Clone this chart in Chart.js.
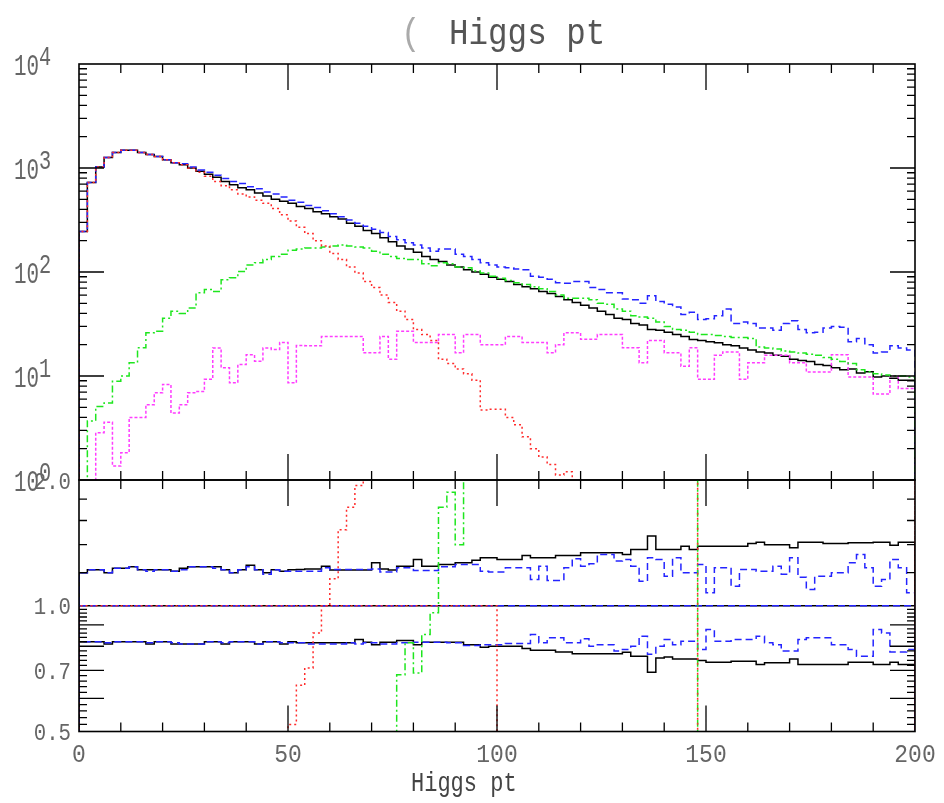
<!DOCTYPE html>
<html>
<head>
<meta charset="utf-8">
<title>Higgs pt</title>
<script src="https://cdn.jsdelivr.net/npm/chart.js@4.4.0/dist/chart.umd.min.js"></script>
<style>
  body { margin: 0; background: #fff; }
  #wrap { position: relative; width: 944px; height: 803px; }
  canvas { position: absolute; left: 0; }
  #topPanel { top: 0; }
  #ratioPanel { top: 460px; }
</style>
</head>
<body>
<div id="wrap">
  <canvas id="topPanel" width="944" height="500"></canvas>
  <canvas id="ratioPanel" width="944" height="343"></canvas>
</div>
<script>
// empty / out of range bins
const below = 0.1;
const under = 0.3;
const over = 3;

// left edges of the 2 GeV bins
const bins = [0, 2, 4, 6, 8, 10, 12, 14, 16, 18, 20, 22, 24, 26, 28, 30, 32, 34, 36, 38,
  40, 42, 44, 46, 48, 50, 52, 54, 56, 58, 60, 62, 64, 66, 68, 70, 72, 74, 76, 78,
  80, 82, 84, 86, 88, 90, 92, 94, 96, 98, 100, 102, 104, 106, 108, 110, 112, 114, 116, 118,
  120, 122, 124, 126, 128, 130, 132, 134, 136, 138, 140, 142, 144, 146, 148, 150, 152, 154, 156, 158,
  160, 162, 164, 166, 168, 170, 172, 174, 176, 178, 180, 182, 184, 186, 188, 190, 192, 194, 196, 198];
const binEnd = 200;

// upper panel, events per bin
const topBlack = [
  245, 724, 1023, 1259, 1413, 1479, 1479, 1413, 1349, 1288,
  1202, 1122, 1072, 1000, 933, 871, 813, 741, 692, 646,
  617, 575, 537, 501, 479, 457, 427, 407, 380, 363,
  339, 324, 295, 275, 251, 234, 214, 195, 178, 166,
  155, 141, 132, 126, 117, 112, 105, 100, 95, 89,
  85, 81, 76, 72, 69, 65, 62, 58, 54, 51,
  48, 45, 42, 39, 36, 35, 32, 31, 28, 27.5,
  26.3, 25.1, 24, 22.4, 21.9, 21.4, 20.9, 20, 19.5, 18.6,
  17.8, 17, 16.6, 15.8, 15.5, 14.5, 14.1, 13.8, 12.9, 12.6,
  12, 11.5, 11.7, 10.7, 11, 9.8, 10, 9.5, 9.1, 9.1];

const topBlue = [
  245, 724, 1023, 1259, 1413, 1479, 1479, 1413, 1349, 1288,
  1202, 1122, 1096, 1023, 955, 912, 851, 794, 741, 708,
  661, 631, 589, 562, 525, 490, 468, 437, 417, 389,
  363, 339, 316, 295, 275, 257, 240, 219, 204, 191,
  182, 170, 158, 166, 166, 148, 141, 132, 123, 117,
  112, 110, 107, 105, 91, 89, 85, 79, 78, 81,
  81, 71, 68, 63, 63, 55, 54, 50, 59, 52,
  49, 46, 39, 41, 35, 35.5, 38, 44, 32, 33,
  32, 29, 29, 27.5, 32, 34, 28, 26, 26.3, 29,
  30, 29.5, 21.4, 23, 20, 16.6, 17, 19.5, 18.6, 17.8];

const topRed = [
  245, 724, 1023, 1259, 1413, 1479, 1479, 1413, 1349, 1288,
  1202, 1122, 1072, 1000, 912, 832, 741, 676, 617, 562,
  525, 490, 457, 407, 355, 309, 269, 234, 200, 178,
  151, 132, 112, 98, 81, 71, 60, 51, 42, 35,
  28, 25, 22, 14.5, 13.2, 11.7, 10.5, 9.1, 4.7, 4.8,
  4.8, 4.0, 3.4, 2.6, 2.0, 1.66, 1.41, 1.12, 1.2, below,
  below, below, below, below, below, below, below, below, below, below,
  below, below, below, below, below, below, below, below, below, below,
  below, below, below, below, below, below, below, below, below, below,
  below, below, below, below, below, below, below, below, below, below];

const topGreen = [
  below, 3.7, 5.1, 5.5, 8.9, 10, 13.4, 18.7, 26, 27,
  36, 42, 40, 45, 63, 68, 65, 84, 88, 101,
  117, 123, 132, 141, 148, 162, 166, 170, 170, 174,
  178, 182, 178, 174, 170, 158, 148, 141, 135, 132,
  132, 120, 115, 123, 120, 112, 110, 102, 98, 91,
  87, 83, 79, 76, 72, 69, 65, 60, 56, 56,
  56, 54, 50, 49, 44, 42, 38, 37, 36, 33,
  30, 28, 27.5, 26.3, 25, 25, 24.5, 24, 23.4, 23.4,
  23, 19, 18.6, 18.2, 17.4, 17, 16.6, 16.2, 15.8, 15.1,
  14.5, 13.8, 13.2, 11.5, 11, 10.5, 10.2, 10, 10, 9.8];

const topMagenta = [
  below, below, 2.85, 3.6, 1.36, 1.83, 4.0, 4.0, 5.3, 6.9,
  8.3, 4.4, 5.3, 6.9, 7.1, 9.3, 18.6, 12, 8.6, 12.9,
  16, 13.9, 18.6, 18, 21, 8.6, 19.6, 19.5, 19.5, 24,
  24, 24, 24, 24, 16.7, 16.7, 24, 14.5, 27, 27,
  21, 21, 21, 25, 25, 16.7, 25, 25, 20, 20,
  20, 24, 24, 21, 21, 21, 16.7, 20, 26, 26,
  22.5, 22.5, 25, 25, 25, 18.7, 18.7, 13.4, 22, 22,
  16.7, 16.7, 12.4, 18.7, 9.3, 9.3, 15.8, 17, 17, 9.3,
  13.4, 13.4, 15.8, 15.8, 15.8, 13.4, 13.4, 10.9, 10.9, 10.9,
  16, 16, 9.8, 9.8, 9.8, 6.7, 6.7, 10, 7.6, 7.6];

// lower panel, ratios
const ratioBlackUp = [
  1.20, 1.22, 1.22, 1.20, 1.23, 1.23, 1.24, 1.22, 1.22, 1.22,
  1.22, 1.21, 1.23, 1.24, 1.24, 1.24, 1.24, 1.22, 1.20, 1.22,
  1.25, 1.22, 1.20, 1.22, 1.21, 1.22, 1.221, 1.225, 1.225, 1.244,
  1.217, 1.217, 1.217, 1.217, 1.217, 1.267, 1.225, 1.217, 1.244, 1.244,
  1.29, 1.244, 1.244, 1.255, 1.255, 1.267, 1.267, 1.285, 1.302, 1.302,
  1.29, 1.29, 1.29, 1.319, 1.302, 1.302, 1.302, 1.319, 1.319, 1.319,
  1.339, 1.339, 1.339, 1.339, 1.339, 1.326, 1.364, 1.364, 1.468, 1.364,
  1.364, 1.364, 1.389, 1.364, 1.389, 1.389, 1.389, 1.389, 1.389, 1.389,
  1.41, 1.42, 1.40, 1.40, 1.40, 1.377, 1.42, 1.42, 1.42, 1.41,
  1.41, 1.41, 1.415, 1.415, 1.415, 1.42, 1.42, 1.395, 1.42, 1.42];

const ratioBlackLow = [
  0.82, 0.82, 0.82, 0.81, 0.82, 0.82, 0.82, 0.82, 0.81, 0.82,
  0.82, 0.81, 0.81, 0.81, 0.81, 0.82, 0.82, 0.81, 0.82, 0.82,
  0.82, 0.81, 0.82, 0.82, 0.81, 0.82, 0.815, 0.815, 0.815, 0.815,
  0.815, 0.815, 0.815, 0.83, 0.818, 0.807, 0.818, 0.818, 0.826, 0.826,
  0.807, 0.818, 0.818, 0.818, 0.818, 0.818, 0.807, 0.807, 0.795, 0.80,
  0.80, 0.80, 0.80, 0.79, 0.782, 0.782, 0.782, 0.775, 0.775, 0.768,
  0.768, 0.768, 0.768, 0.768, 0.768, 0.774, 0.757, 0.757, 0.693, 0.75,
  0.754, 0.746, 0.746, 0.746, 0.74, 0.732, 0.732, 0.732, 0.736, 0.736,
  0.736, 0.723, 0.73, 0.73, 0.73, 0.746, 0.723, 0.723, 0.723, 0.723,
  0.723, 0.723, 0.732, 0.732, 0.732, 0.723, 0.723, 0.732, 0.723, 0.723];

const ratioBlueUp = [
  1.20, 1.22, 1.22, 1.20, 1.23, 1.23, 1.24, 1.22, 1.21, 1.22,
  1.22, 1.21, 1.22, 1.24, 1.24, 1.24, 1.23, 1.22, 1.20, 1.22,
  1.24, 1.22, 1.19, 1.22, 1.21, 1.21, 1.21, 1.21, 1.21, 1.233,
  1.221, 1.221, 1.221, 1.221, 1.221, 1.225, 1.205, 1.205, 1.233, 1.233,
  1.215, 1.215, 1.215, 1.24, 1.24, 1.255, 1.255, 1.255, 1.21, 1.205,
  1.205, 1.233, 1.233, 1.233, 1.156, 1.244, 1.15, 1.15, 1.233, 1.296,
  1.244, 1.26, 1.327, 1.327, 1.28, 1.29, 1.244, 1.145, 1.302, 1.29,
  1.177, 1.302, 1.199, 1.199, 1.255, 1.074, 1.233, 1.233, 1.114, 1.221,
  1.221, 1.21, 1.21, 1.244, 1.19, 1.302, 1.17, 1.094, 1.177, 1.177,
  1.199, 1.199, 1.267, 1.327, 1.233, 1.114, 1.156, 1.29, 1.233, 1.074];

const ratioBlueLow = [
  0.82, 0.82, 0.82, 0.815, 0.82, 0.82, 0.82, 0.82, 0.815, 0.82,
  0.82, 0.815, 0.81, 0.81, 0.81, 0.82, 0.82, 0.815, 0.82, 0.82,
  0.82, 0.81, 0.82, 0.82, 0.815, 0.815, 0.815, 0.81, 0.81, 0.81,
  0.81, 0.81, 0.815, 0.81, 0.815, 0.815, 0.81, 0.81, 0.815, 0.815,
  0.818, 0.818, 0.818, 0.818, 0.815, 0.815, 0.803, 0.803, 0.807, 0.807,
  0.807, 0.812, 0.812, 0.812, 0.853, 0.815, 0.838, 0.838, 0.815, 0.815,
  0.834, 0.80, 0.807, 0.807, 0.779, 0.786, 0.80, 0.845, 0.765, 0.80,
  0.83, 0.807, 0.822, 0.822, 0.786, 0.877, 0.822, 0.822, 0.83, 0.83,
  0.83, 0.845, 0.815, 0.807, 0.779, 0.779, 0.83, 0.838, 0.838, 0.838,
  0.807, 0.807, 0.786, 0.757, 0.757, 0.877, 0.861, 0.775, 0.775, 0.786];

const ratioRedRise = [
  under, under, under, under, under, under, under, under, under, under,
  under, under, under, under, under, under, under, under, under, under,
  under, under, under, under, under, 0.52, 0.645, 0.71, 0.86, 1.0,
  1.16, 1.52, 1.72, 1.94, over, over, over, over, over, over,
  over, over, over, over, over, over, over, over, over, over,
  over, over, over, over, over, over, over, over, over, over,
  over, over, over, over, over, over, over, over, over, over,
  over, over, over, over, over, over, over, over, over, over,
  over, over, over, over, over, over, over, over, over, over,
  over, over, over, over, over, over, over, over, over, over];

const ratioRedRef = [
  1, 1, 1, 1, 1, 1, 1, 1, 1, 1,
  1, 1, 1, 1, 1, 1, 1, 1, 1, 1,
  1, 1, 1, 1, 1, 1, 1, 1, 1, 1,
  1, 1, 1, 1, 1, 1, 1, 1, 1, 1,
  1, 1, 1, 1, 1, 1, 1, 1, 1, 1,
  under, under, under, under, under, under, under, under, under, under,
  under, under, under, under, under, under, under, under, under, under,
  under, under, under, under, over, over, over, over, over, over,
  over, over, over, over, over, over, over, over, over, over,
  over, over, over, over, over, over, over, over, over, over];

const ratioGreenRise = [
  under, under, under, under, under, under, under, under, under, under,
  under, under, under, under, under, under, under, under, under, under,
  under, under, under, under, under, under, under, under, under, under,
  under, under, under, under, under, under, under, under, 0.684, 0.815,
  0.69, 0.853, 0.962, 1.72, 1.87, 1.40, over, over, over, over,
  over, over, over, over, over, over, over, over, over, over,
  over, over, over, over, over, over, over, over, over, over,
  over, over, over, over, under, under, under, under, under, under,
  under, under, under, under, under, under, under, under, under, under,
  under, under, under, under, under, under, under, under, under, under];

const unityX = [0, 200];
const unityY = [1, 1];

// axis ticks
const xMajorTicks = [50, 100, 150];
const xMinorTicks = [10, 20, 30, 40, 60, 70, 80, 90, 110, 120, 130, 140, 160, 170, 180, 190];
const xTickLabels = [0, 50, 100, 150, 200];
const topMajorTicks = [10, 100, 1000];
const topMinorTicks = [2, 3, 4, 5, 6, 7, 8, 9, 20, 30, 40, 50, 60, 70, 80, 90,
  200, 300, 400, 500, 600, 700, 800, 900, 2000, 3000, 4000, 5000, 6000, 7000, 8000, 9000];
const topTickLabels = [1, 10, 100, 1000, 10000];
const ratioMajorTicks = [0.6, 0.7, 0.8, 0.9];
const ratioMinorTicks = [0.52, 0.54, 0.56, 0.58, 0.62, 0.64, 0.66, 0.68, 0.72, 0.74, 0.76, 0.78,
  0.82, 0.84, 0.86, 0.88, 0.92, 0.94, 0.96, 0.98, 1.2, 1.4, 1.6, 1.8];
const ratioTickLabels = [0.5, 0.7, 1.0, 2.0];

const red = '#ff2b2b', green = '#1ee61e', magenta = '#ff3cff', blue = '#2424ff';
const mono = '"Liberation Mono", "DejaVu Sans Mono", monospace';

function histogram(values, empty) {
  const pts = [{ x: bins[0], y: empty }];
  values.forEach((v, i) => pts.push({ x: bins[i], y: v }));
  pts.push({ x: binEnd, y: empty });
  return pts;
}

function hist(values, color, dash, empty) {
  return {
    data: histogram(values, empty),
    borderColor: color,
    borderDash: dash,
    borderWidth: 1.5,
    stepped: true,
    pointRadius: 0,
    fill: false
  };
}

function unity(color, dash) {
  return {
    data: unityX.map((x, i) => ({ x: x, y: unityY[i] })),
    borderColor: color,
    borderDash: dash,
    borderWidth: 1.5,
    pointRadius: 0,
    fill: false
  };
}

// y is the visual middle of the digits / capitals
function text(ctx, str, x, y, size, align, color, squeeze) {
  ctx.save();
  ctx.font = size + 'px ' + mono;
  ctx.fillStyle = color;
  ctx.textAlign = align;
  ctx.textBaseline = 'alphabetic';
  ctx.translate(x, y + 0.33 * size);
  ctx.scale(squeeze || 1, 1);
  ctx.fillText(str, 0, 0);
  ctx.restore();
}

// closed frame with inward ticks, like the old topdrawer plots
function framePlugin(cfg) {
  return {
    id: 'frame',
    afterDraw(chart) {
      const { ctx, chartArea: a } = chart;
      const xs = chart.scales.x, ys = chart.scales.y;
      ctx.save();
      ctx.strokeStyle = '#000';
      ctx.lineWidth = 1.3;
      ctx.beginPath();
      const xTick = (v, len) => {
        const px = xs.getPixelForValue(v);
        ctx.moveTo(px, a.top); ctx.lineTo(px, a.top + len);
        ctx.moveTo(px, a.bottom); ctx.lineTo(px, a.bottom - len);
      };
      const yTick = (v, len) => {
        const py = ys.getPixelForValue(v);
        ctx.moveTo(a.left, py); ctx.lineTo(a.left + len, py);
        ctx.moveTo(a.right, py); ctx.lineTo(a.right - len, py);
      };
      xMinorTicks.forEach(v => xTick(v, 9));
      xMajorTicks.forEach(v => xTick(v, 26));
      cfg.yMinor.forEach(v => yTick(v, 8));
      cfg.yMajor.forEach(v => yTick(v, 25));
      ctx.stroke();
      ctx.lineWidth = 1.6;
      ctx.strokeRect(a.left, a.top, a.right - a.left, a.bottom - a.top);
      ctx.restore();
      cfg.labels(chart);
    }
  };
}

const baseOptions = (padding, yScale) => ({
  responsive: false,
  animation: false,
  layout: { padding: padding },
  plugins: { legend: { display: false }, tooltip: { enabled: false } },
  scales: {
    x: { type: 'linear', min: 0, max: 200, display: false },
    y: yScale
  }
});

new Chart(document.getElementById('topPanel'), {
  type: 'line',
  data: {
    datasets: [
      hist(topRed, red, [2, 3], below),
      hist(topGreen, green, [7, 3, 2, 3], below),
      hist(topMagenta, magenta, [3, 2], below),
      hist(topBlue, blue, [7, 4], below),
      hist(topBlack, '#000', [], below)
    ]
  },
  options: baseOptions({ left: 79, right: 29, top: 64, bottom: 20 },
    { type: 'logarithmic', min: 1, max: 10000, display: false }),
  plugins: [framePlugin({
    yMajor: topMajorTicks,
    yMinor: topMinorTicks,
    labels(chart) {
      const ctx = chart.ctx, ys = chart.scales.y;
      topTickLabels.forEach(v => {
        const py = ys.getPixelForValue(v);
        text(ctx, '10', 14, py + 1, 29, 'left', '#666', 0.72);
        text(ctx, String(Math.round(Math.log10(v))), 39, py - 8, 27, 'left', '#666', 0.75);
      });
      text(ctx, '(', 401, 32, 37, 'left', '#aaa', 0.88);
      text(ctx, 'Higgs pt', 449, 32, 37, 'left', '#555', 0.88);
    }
  })]
});

new Chart(document.getElementById('ratioPanel'), {
  type: 'line',
  data: {
    datasets: [
      hist(ratioRedRise, red, [2, 3], under),
      hist(ratioRedRef, red, [2, 3], under),
      hist(ratioGreenRise, green, [7, 3, 2, 3], under),
      hist(ratioBlueUp, blue, [7, 4], under),
      hist(ratioBlueLow, blue, [7, 4], under),
      unity(blue, [7, 4]),
      hist(ratioBlackUp, '#000', [], under),
      hist(ratioBlackLow, '#000', [], under),
      unity('#000', [])
    ]
  },
  options: baseOptions({ left: 79, right: 29, top: 20, bottom: 71.5 },
    { type: 'logarithmic', min: 0.5, max: 2, display: false }),
  plugins: [framePlugin({
    yMajor: ratioMajorTicks,
    yMinor: ratioMinorTicks,
    labels(chart) {
      const ctx = chart.ctx, xs = chart.scales.x, ys = chart.scales.y;
      const a = chart.chartArea;
      ratioTickLabels.forEach(v => {
        text(ctx, v.toFixed(1), 71, ys.getPixelForValue(v) + 1, 23, 'right', '#666', 0.9);
      });
      xTickLabels.forEach(v => {
        text(ctx, String(v), xs.getPixelForValue(v), a.bottom + 22, 25, 'center', '#666', 0.92);
      });
      text(ctx, 'Higgs pt', 411, a.bottom + 50, 27.5, 'left', '#444', 0.8);
    }
  })]
});
</script>
</body>
</html>
